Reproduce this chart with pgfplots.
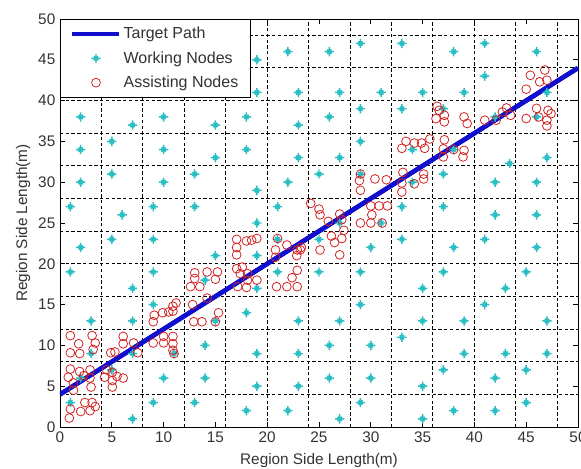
\documentclass[border=0pt]{standalone}
\usepackage{fontspec}
\setmainfont{Liberation Sans}
\usepackage{pgfplots}
\pgfplotsset{compat=1.18}
\definecolor{wcyan}{RGB}{40,190,195}
\definecolor{ared}{RGB}{210,35,35}
\definecolor{pblue}{RGB}{15,15,205}
\pgfdeclareplotmark{mstar}{%
  \pgfpathmoveto{\pgfpoint{-\pgfplotmarksize}{0pt}}\pgfpathlineto{\pgfpoint{\pgfplotmarksize}{0pt}}%
  \pgfpathmoveto{\pgfpoint{0pt}{-\pgfplotmarksize}}\pgfpathlineto{\pgfpoint{0pt}{\pgfplotmarksize}}%
  \pgfpathmoveto{\pgfpoint{-0.45\pgfplotmarksize}{-0.45\pgfplotmarksize}}\pgfpathlineto{\pgfpoint{0.45\pgfplotmarksize}{0.45\pgfplotmarksize}}%
  \pgfpathmoveto{\pgfpoint{-0.45\pgfplotmarksize}{0.45\pgfplotmarksize}}\pgfpathlineto{\pgfpoint{0.45\pgfplotmarksize}{-0.45\pgfplotmarksize}}%
  \pgfusepathqstroke}
\pgfplotsset{
  lineleg/.style={legend image code/.code={\draw[##1] (0pt,0pt) -- (35pt,0pt);}},
  markleg/.style={legend image code/.code={\draw[##1] plot coordinates {(18pt,0pt)};}},
}
\begin{document}
\begin{tikzpicture}
\begin{axis}[
  scale only axis, width=388.5pt, height=306pt,
  xmin=0, xmax=50, ymin=0, ymax=50,
  xtick={0,5,...,50}, ytick={0,5,...,50},
  tick align=inside, tick pos=both,
  major tick length=3.75pt,
  /pgf/number format/assume math mode=true,
  font=\fontsize{11.5}{13}\selectfont,
  ticklabel style={font=\fontsize{11.5}{13}\selectfont, text=black!80},
  label style={font=\fontsize{11.5}{13}\selectfont, text=black!80},
  axis line style={black, line width=0.6pt},
  every tick/.style={black, line width=0.6pt},
  extra x ticks={4,8,...,48}, extra y ticks={4,8,...,48},
  extra x tick labels={}, extra y tick labels={},
  extra x tick style={grid=major, major tick length=0pt},
  extra y tick style={grid=major, major tick length=0pt},
  major grid style={black, line width=0.7pt, dash pattern=on 2.5pt off 1.8pt},
  xlabel={Region Side Length(m)},
  ylabel={Region Side Length(m)},
  xlabel style={yshift=-1pt},
  ylabel style={yshift=-1pt},
  legend style={at={(0,1)}, anchor=north west, draw=black, line width=0.6pt, fill=white,
    font=\fontsize{12}{13}\selectfont, text=black!80, inner xsep=7pt, inner ysep=4pt,
    row sep=4pt, legend cell align=left},
  clip=true,
]
\addplot[pblue, line width=3.4pt, lineleg]
  coordinates {(0,4) (50,44)};
\addlegendentry{Target Path}
\addplot[only marks, mark=mstar, mark size=3.5pt, wcyan, line width=1.1pt, markleg]
  coordinates {
  (1,3)(7,1)(9,3)(13,3)(18,2)(22,2)(27,1)(29,3)(35,1)(38,2)(42,2)(45,3)
  (2,6)(5,7)(10,6)(14,6)(19,5)(23,5)(26,6)(30,6)(35,5)(37,7)(42,6)(45,7)
  (3,9)(7,9)(11,9)(14,10)(19,9)(23,9)(26,10)(30,10)(33,11)(39,9)(43,9)(47,9)
  (3,13)(7,13)(9,15)(15,13)(18,14)(23,13)(27,13)(29,15)(35,13)(39,13)(47,13)(41,15)
  (1,19)(9,19)(7,17)(14,18)(19,17)(21,19)(25,19)(29,19)(37,19)(45,19)(35,17)(43,17)
  (2,22)(5,23)(9,23)(21,23)(25,23)(30,22)(33,23)(38,22)(41,23)(46,22)(19,21)(15,21)
  (1,27)(9,27)(13,27)(6,26)(21,27)(19,25)(33,27)(37,27)(42,26)(46,26)(31,25)(27,25)
  (5,31)(13,31)(2,30)(10,30)(19,29)(22,30)(25,31)(29,31)(37,31)(34,30)(42,30)(46,30)
  (5,35)(2,34)(10,34)(15,33)(18,34)(23,33)(27,33)(29,35)(34,34)(38,34)(47,33)(43.4,32.3)
  (2,38)(7,37)(10,38)(15,37)(18,38)(23,37)(26,38)(29,39)(33,39)(37,39)(42,38)(46,38)
  (19,41)(23,41)(27,41)(31,41)(35,41)(39,41)(47,41)(41,43)
  (19,45)(22,46)(26,46)(29,47)(33,47)(38,46)(41,47)(46,46)
  };
\addlegendentry{Working Nodes}
\addplot[only marks, mark=o, mark size=3.3pt, ared, line width=0.6pt, markleg]
  coordinates {
  (0.9,1.1)(1.0,2.2)(2.0,1.9)(2.4,3.0)(2.9,2.0)(3.1,3.0)(3.4,2.5)
  (1.0,7.1)(0.8,6.1)(1.3,5.4)(1.3,4.5)(1.9,6.8)(2.9,7.0)(2.9,6.0)(3.0,4.9)(2.3,6.3)
  (1.0,11.2)(1.0,9.1)(1.8,10.2)(1.9,9.0)(3.1,11.2)(3.4,10.3)(3.2,9.5)
  (4.9,9.1)(5.3,9.2)(6.1,11.1)(6.1,10.2)(7.1,10.3)(7.5,9.1)
  (4.5,7.0)(4.3,6.1)(5.05,6.7)(5.05,5.7)(5.05,4.9)(6.1,6.0)(5.5,6.2)
  (9.0,10.3)(10.0,10.3)(10.0,11.1)(10.9,11.1)(10.9,10.2)(10.9,9.4)(11.0,9.0)
  (9.0,12.9)(9.1,13.7)(9.9,14.0)(10.5,14.1)(10.9,14.8)(11.2,15.2)(10.9,14.2)
  (12.8,15.0)(12.9,12.9)(13.7,12.9)(14.2,15.8)(15.3,14.0)(15.0,12.9)
  (12.6,17.2)(13.0,18.9)(13.0,18.2)(14.2,19.0)(15.2,19.0)(15.0,18.1)(13.5,17.2)
  (17.05,19.4)(17.4,18.8)(18.1,18.8)(18.1,18.0)(19.0,18.0)(17.15,17.2)(18.0,17.1)(17.6,19.6)
  (17.05,23.0)(17.05,22.0)(17.05,21.1)(18.0,22.8)(18.5,22.9)(19.0,23.1)
  (21.0,23.1)(20.8,21.7)(20.8,20.8)(21.9,22.3)(22.9,21.7)(22.85,21.0)(23.3,22.0)
  (20.9,17.2)(21.9,17.2)(22.9,17.2)(22.9,19.2)(22.4,18.3)
  (24.2,27.4)(25.0,26.7)(25.1,26.0)(25.9,25.2)(27.0,26.1)(27.2,25.4)(27.4,24.1)
  (26.2,23.4)(27.2,23.1)(26.5,22.6)(25.1,21.7)(27.0,21.1)(23.2,21.7)
  (29.0,25.0)(30.0,25.0)(30.1,26.0)(30.0,27.1)(30.8,27.1)(31.6,27.1)(31.1,25.0)
  (29.0,31.0)(28.9,30.2)(29.0,29.0)(30.4,30.4)(31.5,30.3)
  (33.1,31.2)(33.0,29.9)(33.0,28.8)(34.2,29.8)(35.1,30.4)(35.1,31.0)
  (33.0,34.15)(33.4,35.0)(34.2,34.8)(34.9,34.8)(35.7,35.3)(35.2,34.15)
  (37.1,35.2)(37.0,34.1)(37.0,33.1)(38.9,33.1)(39.0,33.9)(38.0,34.0)
  (36.4,39.3)(36.3,37.8)(37.1,38.2)(37.1,37.4)(36.6,38.8)(39.0,38.0)(39.3,37.2)
  (41.0,37.6)(42.1,37.6)(43.1,39.1)(43.5,38.2)(42.7,38.6)
  (45.0,37.8)(46.0,39.05)(46.2,38.0)(47.1,38.8)(47.4,38.4)(47.0,37.6)(47.0,36.9)
  (45.0,41.4)(45.4,43.1)(46.3,42.3)(46.8,43.75)(47.0,42.5)
  };
\addlegendentry{Assisting Nodes}
\addplot[pblue, line width=3.4pt, forget plot] coordinates {(0,4) (50,44)};
\end{axis}
\pgfresetboundingbox
\path[use as bounding box] (-45pt,-30.75pt) rectangle (390.75pt,320.25pt);
\end{tikzpicture}
\end{document}
